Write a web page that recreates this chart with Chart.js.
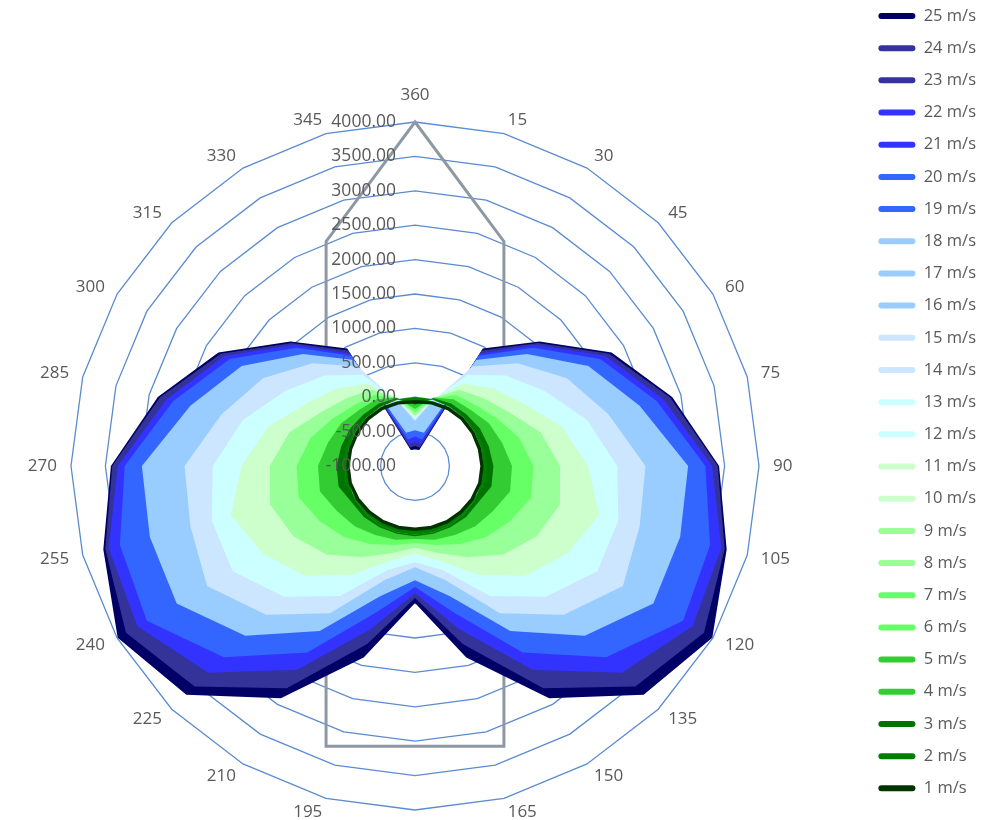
<!DOCTYPE html>
<html>
<head>
<meta charset="utf-8">
<script src="https://cdn.jsdelivr.net/npm/chart.js@4.4.1/dist/chart.umd.min.js"></script>
<style>
  html, body { margin: 0; padding: 0; background: #ffffff; }
  #wrap { width: 998px; height: 820px; position: relative; }
</style>
</head>
<body>
<div id="wrap"><canvas id="c"></canvas></div>
<script>
// ---- categories (heading angles) ----
const angleLabels = ['360','15','30','45','60','75','90','105','120','135','150','165','180',
                     '195','210','225','240','255','270','285','300','315','330','345'];

// ---- radial tick range ----
const tickMin = -1000;
const tickMax = 4000;
const tickStep = 500;

// ---- series values (one per wind speed, 24 headings) ----
const s1  = [-65,-50,-35,-30,-30,-30,-25,-25,-40,-55,-65,-75,-80,-75,-65,-55,-40,-25,-25,-30,-30,-30,-35,-50];
const s2  = [-90,0,10,10,30,40,50,50,-30,-40,-50,-60,-70,-60,-50,-40,-30,50,50,40,30,10,10,0];
const s3  = [-110,20,50,60,90,110,140,150,60,50,30,20,20,20,30,50,60,150,140,110,90,60,50,20];
const s4  = [-150,20,90,110,170,210,270,290,200,160,110,80,40,80,110,160,200,290,270,210,170,110,90,20];
const s5  = [-170,30,120,150,240,310,410,430,310,240,160,110,60,110,160,240,310,430,410,310,240,150,120,30];
const s6  = [-200,20,160,200,310,440,560,590,450,350,240,150,90,150,240,350,450,590,560,440,310,200,160,20];
const s7  = [-220,20,190,250,380,570,720,750,600,460,310,190,120,190,310,460,600,750,720,570,380,250,190,20];
const s8  = [-250,20,240,330,480,730,920,960,820,640,420,250,160,250,420,640,820,960,920,730,480,330,240,20];
const s9  = [-270,20,280,400,570,890,1110,1180,1040,820,530,310,190,310,530,820,1040,1180,1110,890,570,400,280,20];
const s10 = [-290,10,330,500,700,1050,1310,1480,1300,1040,680,370,230,370,680,1040,1300,1480,1310,1050,700,500,330,10];
const s11 = [-300,10,380,600,820,1210,1520,1770,1550,1260,820,430,270,430,820,1260,1550,1770,1520,1210,820,600,380,10];
const s12 = [-310,0,450,730,1000,1400,1730,1900,1800,1480,1000,500,330,500,1000,1480,1800,1900,1730,1400,1000,730,450,0];
const s13 = [-320,0,530,860,1180,1590,1940,2060,2060,1690,1180,570,400,570,1180,1690,2060,2060,1940,1590,1180,860,530,0];
const s14 = [-330,-20,600,990,1360,1750,2140,2200,2270,1870,1320,650,430,650,1320,1870,2270,2200,2140,1750,1360,990,600,-20];
const s15 = [-345,-30,670,1110,1550,1910,2350,2380,2490,2060,1470,720,470,720,1470,2060,2490,2380,2350,1910,1550,1110,670,-30];
const s16 = [-390,-420,710,1170,1670,2070,2560,2560,2640,2200,1570,800,530,800,1570,2200,2640,2560,2560,2070,1670,1170,710,-420];
const s17 = [-430,-460,750,1240,1790,2220,2760,2760,2820,2330,1670,880,600,880,1670,2330,2820,2760,2760,2220,1790,1240,750,-460];
const s18 = [-480,-500,780,1300,1910,2380,2970,2990,3000,2490,1770,960,660,960,1770,2490,3000,2990,2970,2380,1910,1300,780,-500];
const s19 = [-530,-560,820,1370,2010,2510,3100,3220,3250,2710,1950,1090,710,1090,1950,2710,3250,3220,3100,2510,2010,1370,820,-560];
const s20 = [-570,-600,850,1430,2110,2640,3220,3440,3500,2930,2130,1210,760,1210,2130,2930,3500,3440,3220,2640,2110,1430,850,-600];
const s21 = [-610,-640,870,1460,2150,2690,3270,3520,3580,3090,2280,1330,800,1330,2280,3090,3580,3520,3270,2690,2150,1460,870,-640];
const s22 = [-650,-670,890,1490,2200,2740,3320,3610,3660,3250,2420,1450,850,1450,2420,3250,3660,3610,3320,2740,2200,1490,890,-670];
const s23 = [-680,-700,910,1510,2230,2790,3360,3640,3750,3390,2580,1560,880,1560,2580,3390,3750,3640,3360,2790,2230,1510,910,-700];
const s24 = [-710,-720,940,1530,2260,2840,3400,3660,3850,3530,2730,1680,920,1680,2730,3530,3850,3660,3400,2840,2260,1530,940,-720];
const s25 = [-760,-760,970,1560,2300,2870,3420,3690,3990,3700,2900,1880,990,1880,2900,3700,3990,3690,3420,2870,2300,1560,970,-760];

const seriesNames = ['1 m/s','2 m/s','3 m/s','4 m/s','5 m/s','6 m/s','7 m/s','8 m/s','9 m/s','10 m/s',
  '11 m/s','12 m/s','13 m/s','14 m/s','15 m/s','16 m/s','17 m/s','18 m/s','19 m/s','20 m/s',
  '21 m/s','22 m/s','23 m/s','24 m/s','25 m/s'];
const seriesValues = [s1,s2,s3,s4,s5,s6,s7,s8,s9,s10,s11,s12,s13,s14,s15,s16,s17,s18,s19,s20,s21,s22,s23,s24,s25];

// ---- ship outline (heading angle in degrees, radial value) ----
const hullAngles = [0, 21.6, 162.4, 197.6, 338.4];
const hullValues = [4000, 2510, 3275, 3275, 2510];

// ---- styles ----
const seriesColors = ['#003300','#008000','#007400','#33CC33','#33CC33','#66FF66','#66FF66','#99FF99','#99FF99',
  '#CCFFCC','#CCFFCC','#CCFFFF','#CCFFFF','#CCE6FF','#CCE6FF','#99CCFF','#99CCFF','#99CCFF',
  '#3366FF','#3366FF','#3333FF','#3333FF','#333399','#333399','#000066'];

const FONT = "'Open Sans', 'DejaVu Sans', sans-serif";
const TEXT = '#595959';

const datasets = seriesValues.map((vals, i) => ({
  label: seriesNames[i],
  data: vals,
  backgroundColor: seriesColors[i],
  borderColor: seriesColors[i],
  borderWidth: i === 0 ? 3.5 : 0,
  pointRadius: 0,
  pointHoverRadius: 0,
  fill: i === 0 ? false : 'origin',
  tension: 0
}));

const overlay = {
  id: 'overlay',
  beforeDatasetsDraw(chart) {
    const s = chart.scales.r;
    const ctx = chart.ctx;
    ctx.save();
    // ship outline
    ctx.beginPath();
    hullAngles.forEach((a, i) => {
      const d = s.getDistanceFromCenterForValue(hullValues[i]);
      const rad = a * Math.PI / 180;
      const x = s.xCenter + d * Math.sin(rad);
      const y = s.yCenter - d * Math.cos(rad);
      if (i === 0) ctx.moveTo(x, y); else ctx.lineTo(x, y);
    });
    ctx.closePath();
    ctx.strokeStyle = '#8E98A3';
    ctx.lineWidth = 3;
    ctx.lineJoin = 'miter';
    ctx.stroke();
    // heading labels
    ctx.font = '17px ' + FONT;
    ctx.fillStyle = TEXT;
    ctx.textBaseline = 'middle';
    const half = angleLabels.length / 2;
    angleLabels.forEach((lab, i) => {
      let gap = 14;
      if (i === 0 || i === half) { ctx.textAlign = 'center'; gap = 27; }
      else if (i < half) ctx.textAlign = 'left';
      else ctx.textAlign = 'right';
      const p = s.getPointPosition(i, s.drawingArea + gap);
      ctx.fillText(lab, p.x, p.y);
    });
    ctx.restore();
  },
  afterDatasetsDraw(chart) {
    const s = chart.scales.r;
    const ctx = chart.ctx;
    ctx.save();
    ctx.font = '17.5px ' + FONT;
    ctx.fillStyle = TEXT;
    ctx.textAlign = 'right';
    ctx.textBaseline = 'middle';
    s.ticks.forEach(t => {
      const d = s.getDistanceFromCenterForValue(t.value);
      ctx.fillText(t.label, s.xCenter - 19, s.yCenter - d);
    });
    ctx.restore();
  }
};

new Chart(document.getElementById('c'), {
  type: 'radar',
  data: { labels: angleLabels, datasets },
  options: {
    responsive: true,
    maintainAspectRatio: false,
    animation: false,
    devicePixelRatio: 1,
    layout: { padding: { top: -7.93, right: 12, bottom: 0, left: 0 } },
    elements: { line: { tension: 0 }, point: { radius: 0 } },
    scales: {
      r: {
        min: tickMin,
        max: tickMax,
        startAngle: 0,
        ticks: {
          stepSize: tickStep,
          display: false,
          callback: v => Number(v).toFixed(2)
        },
        pointLabels: { display: false },
        angleLines: { display: false },
        grid: { color: '#5B8BD0', lineWidth: 1.3, circular: false },
        afterSetDimensions(scale) {
          scale.xCenter = 415;
          scale.yCenter = 466;
          scale.drawingArea = 344;
        }
      }
    },
    plugins: {
      tooltip: { enabled: false },
      legend: {
        position: 'right',
        align: 'start',
        reverse: true,
        labels: {
          boxWidth: 37,
          boxHeight: 6,
          padding: 15.68,
          useBorderRadius: true,
          borderRadius: 3,
          color: TEXT,
          font: { family: FONT, size: 16.5 },
          generateLabels(chart) {
            const items = Chart.defaults.plugins.legend.labels.generateLabels(chart);
            items.forEach(it => { it.lineWidth = 0; });
            return items;
          }
        }
      }
    }
  },
  plugins: [overlay]
});
</script>
</body>
</html>
